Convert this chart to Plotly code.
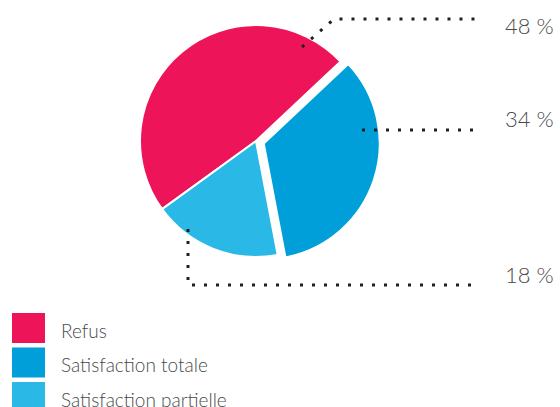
import plotly.graph_objects as go

W, H = 560, 407

categories = ["Refus", "Satisfaction totale", "Satisfaction partielle"]
values = [48, 34, 18]
value_labels = ["48 %", "34 %", "18 %"]
colors = ["#EE1459", "#009FDA", "#2AB9E6"]
pulls = [0, 0.07, 0]

def px(x):
    return x / W

def py(y):
    return 1 - y / H

# pie geometry (pixels)
cx, cy, r = 256, 141, 116
maxpull = max(pulls)
R = r * (1 + maxpull)

fig = go.Figure()
fig.add_trace(go.Pie(
    labels=categories,
    values=values,
    marker=dict(colors=colors, line=dict(color="white", width=2)),
    pull=pulls,
    sort=False,
    direction="clockwise",
    rotation=-126,
    textinfo="none",
    hoverinfo="label+percent",
    showlegend=False,
    domain=dict(x=[px(cx - R), px(cx + R)], y=[py(cy + R), py(cy - R)]),
))

label_font = dict(family="Lato", size=22, color="#4A4A4A", weight=300)
legend_font = dict(family="Lato", size=19, color="#4A4A4A", weight=300)

shapes = []
annotations = []

# leader lines (pixel paths converted to paper coords)
leader_paths = [
    [(302, 47), (334, 19), (475, 19)],
    [(362, 130), (475, 130)],
    [(188, 229), (188, 285), (475, 285)],
]
label_y = [25, 119, 274]
for pts, lbl, ly in zip(leader_paths, value_labels, label_y):
    path = "M" + " L".join(f"{px(x):.5f},{py(y):.5f}" for x, y in pts)
    shapes.append(dict(type="path", path=path, xref="paper", yref="paper",
                       line=dict(color="#231F20", width=3, dash="3px,9px")))
    annotations.append(dict(x=px(556), y=py(ly), xref="paper", yref="paper",
                            text=lbl, showarrow=False, xanchor="right", yanchor="middle",
                            font=label_font))

# custom legend
for i, (cat, col) in enumerate(zip(categories, colors)):
    top = 313 + i * 34.5
    shapes.append(dict(type="rect", xref="paper", yref="paper",
                       x0=px(12), x1=px(45), y0=py(top + 30), y1=py(top),
                       fillcolor=col, line=dict(width=0)))
    annotations.append(dict(x=px(59), y=py(top + 17), xref="paper", yref="paper",
                            text=cat, showarrow=False, xanchor="left", yanchor="middle",
                            font=legend_font))

fig.update_layout(
    width=W, height=H,
    margin=dict(l=0, r=0, t=0, b=0),
    paper_bgcolor="white", plot_bgcolor="white",
    shapes=shapes, annotations=annotations,
    showlegend=False,
)

fig.write_html("out.html")
